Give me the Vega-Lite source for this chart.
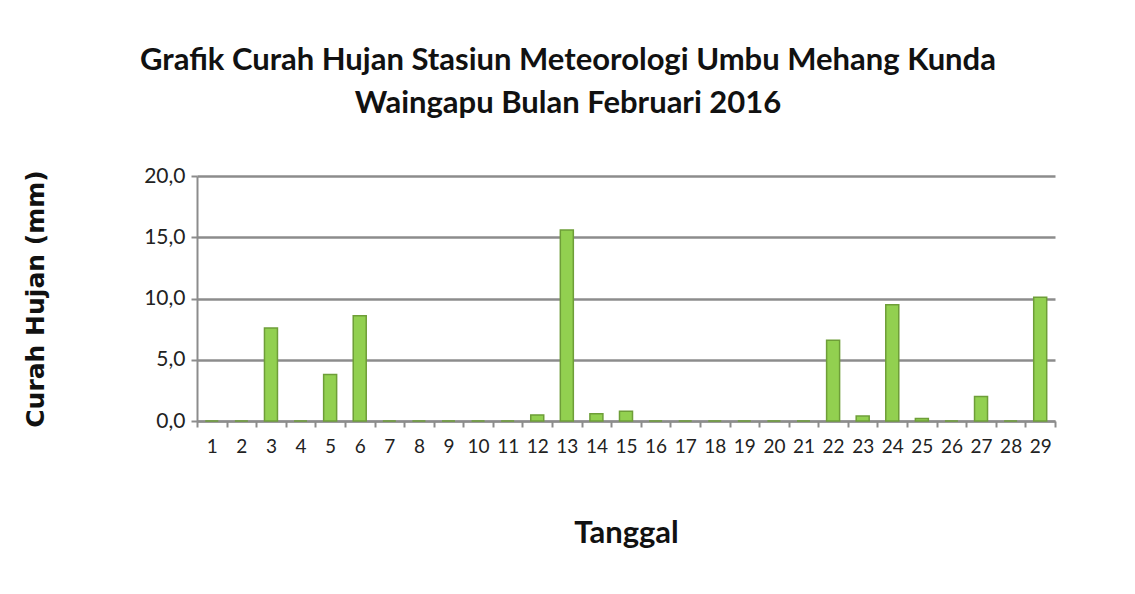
{
  "$schema": "https://vega.github.io/schema/vega-lite/v6.json",
  "width": 858,
  "height": 245,
  "autosize": {"type": "none"},
  "padding": {"left": 197, "top": 176, "right": 80, "bottom": 173},
  "background": "white",
  "title": {
    "text": ["Grafik Curah Hujan Stasiun Meteorologi Umbu Mehang Kunda", "Waingapu Bulan Februari 2016"],
    "font": "Lato",
    "fontSize": 31,
    "fontWeight": "bold",
    "color": "#111111",
    "lineHeight": 43,
    "anchor": "middle",
    "dx": -58,
    "offset": 45
  },
  "data": {
    "values": [
      {"Tanggal": "1", "Curah Hujan": 0},
      {"Tanggal": "2", "Curah Hujan": 0},
      {"Tanggal": "3", "Curah Hujan": 7.6},
      {"Tanggal": "4", "Curah Hujan": 0},
      {"Tanggal": "5", "Curah Hujan": 3.8},
      {"Tanggal": "6", "Curah Hujan": 8.6},
      {"Tanggal": "7", "Curah Hujan": 0},
      {"Tanggal": "8", "Curah Hujan": 0},
      {"Tanggal": "9", "Curah Hujan": 0},
      {"Tanggal": "10", "Curah Hujan": 0},
      {"Tanggal": "11", "Curah Hujan": 0},
      {"Tanggal": "12", "Curah Hujan": 0.5},
      {"Tanggal": "13", "Curah Hujan": 15.6},
      {"Tanggal": "14", "Curah Hujan": 0.6},
      {"Tanggal": "15", "Curah Hujan": 0.8},
      {"Tanggal": "16", "Curah Hujan": 0},
      {"Tanggal": "17", "Curah Hujan": 0},
      {"Tanggal": "18", "Curah Hujan": 0},
      {"Tanggal": "19", "Curah Hujan": 0},
      {"Tanggal": "20", "Curah Hujan": 0},
      {"Tanggal": "21", "Curah Hujan": 0},
      {"Tanggal": "22", "Curah Hujan": 6.6},
      {"Tanggal": "23", "Curah Hujan": 0.4},
      {"Tanggal": "24", "Curah Hujan": 9.5},
      {"Tanggal": "25", "Curah Hujan": 0.2},
      {"Tanggal": "26", "Curah Hujan": 0},
      {"Tanggal": "27", "Curah Hujan": 2.0},
      {"Tanggal": "28", "Curah Hujan": 0},
      {"Tanggal": "29", "Curah Hujan": 10.1}
    ]
  },
  "mark": {"type": "bar", "color": "#92D050", "stroke": "#6E9E38", "strokeWidth": 1.5, "width": 13},
  "encoding": {
    "x": {
      "field": "Tanggal",
      "type": "ordinal",
      "sort": null,
      "scale": {"paddingInner": 0, "paddingOuter": 0},
      "axis": {
        "title": "Tanggal",
        "titleFont": "Lato",
        "titleFontSize": 31,
        "titleFontWeight": "bold",
        "titleColor": "#111111",
        "titlePadding": 62,
        "labelFont": "Lato",
        "labelFontSize": 19,
        "labelColor": "#222222",
        "labelAngle": 0,
        "labelPadding": 10,
        "domainColor": "#8c8c8c",
        "domainWidth": 2,
        "tickColor": "#8c8c8c",
        "tickWidth": 2,
        "tickSize": 6,
        "tickBand": "extent",
        "grid": false
      }
    },
    "y": {
      "field": "Curah Hujan",
      "type": "quantitative",
      "scale": {"domain": [0, 20]},
      "axis": {
        "title": "Curah Hujan (mm)",
        "titleFont": "DejaVu Sans",
        "titleFontSize": 25,
        "titleFontWeight": "bold",
        "titleColor": "#111111",
        "titlePadding": 95,
        "values": [0, 5, 10, 15, 20],
        "format": ".1f",
        "labelExpr": "replace(datum.label, '.', ',')",
        "labelFont": "Lato",
        "labelFontSize": 21,
        "labelColor": "#222222",
        "labelPadding": 6,
        "domainColor": "#8c8c8c",
        "domainWidth": 2,
        "tickColor": "#8c8c8c",
        "tickWidth": 2,
        "tickSize": 6,
        "grid": true,
        "gridColor": "#8c8c8c",
        "gridWidth": 2.5
      }
    }
  },
  "config": {"view": {"stroke": null}}
}
